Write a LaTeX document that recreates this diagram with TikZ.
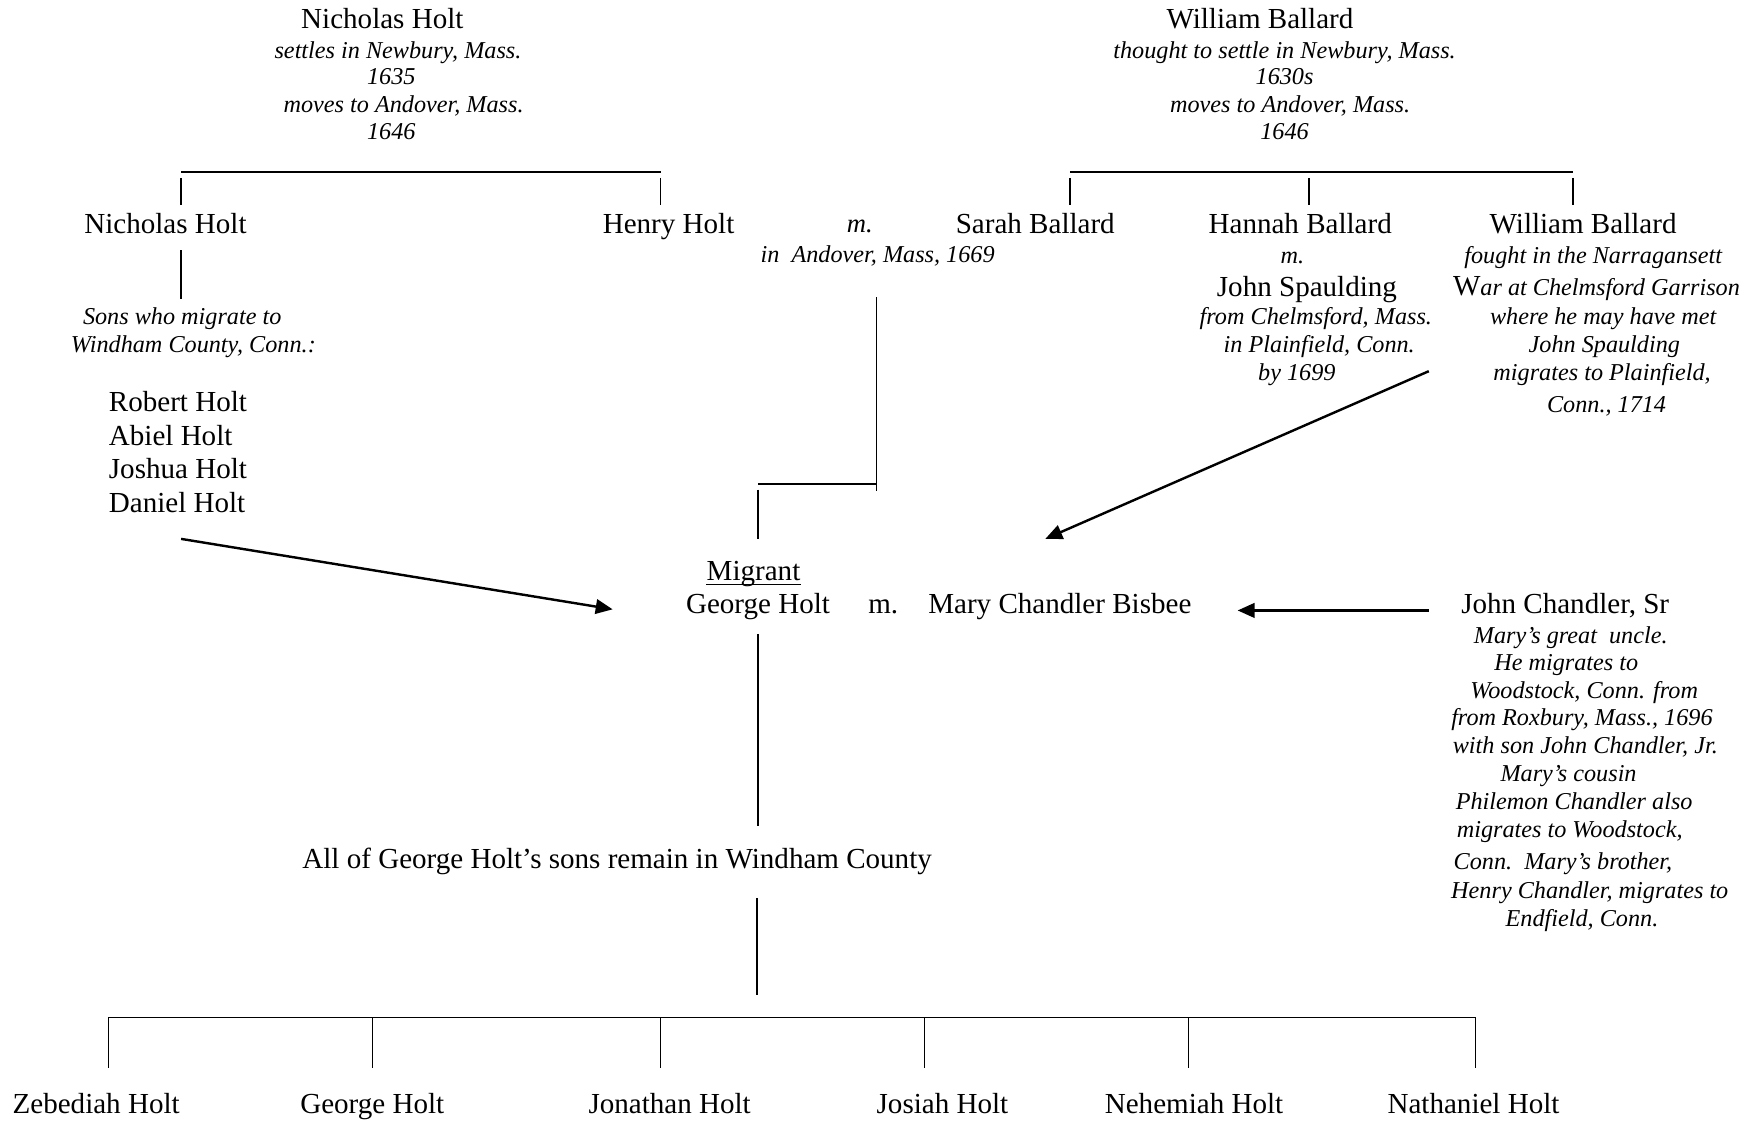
\documentclass[tikz,border=0pt]{standalone}
\usepackage{fontspec}
\setmainfont{Liberation Serif}
\usetikzlibrary{arrows.meta}
\begin{document}
\begin{tikzpicture}[x=0.4617pt,y=-0.4617pt,
  person/.style={anchor=mid,inner sep=0pt,yshift=-1.9pt,font=\fontsize{12}{14}\selectfont},
  remark/.style={anchor=mid,inner sep=0pt,yshift=-1.4pt,font=\fontsize{10}{12}\selectfont\itshape},
  tree/.style={line width=0.6pt},
  migr/.style={line width=1pt,-{Triangle[length=7pt,width=6pt]}}]
\useasboundingbox (0,0) rectangle (1568,1009);

% --- Nicholas Holt, the elder ---
\node[person] (nh) at (342,16) {Nicholas Holt};
\node[remark] (nha) at (356,44) {settles in Newbury, Mass.};
\node[remark] (nhb) at (350,68) {1635};
\node[remark] (nhc) at (361,93) {moves to Andover, Mass.};
\node[remark] (nhd) at (350,117) {1646};
\coordinate (nhL) at (162,154);
\coordinate (nhR) at (591,154);
\draw[tree] (nhL) -- (nhR);
\draw[tree] (nhL) ++(0,5) -- ++(0,24);
\draw[tree] (nhR) ++(0,5) -- ++(0,24);

% --- his sons ---
\node[person] (nhjr) at (148,200) {Nicholas Holt};
\node[person] (hh) at (598,200) {Henry Holt};
\node[remark,font=\fontsize{11}{13}\selectfont\itshape] (hm) at (769,200) {m.};
\node[remark] (hmwhere) at (785,227) {in\ \ Andover, Mass, 1669};
\coordinate (nhjrA) at (162,224);
\coordinate (nhjrB) at (162,267);
\draw[tree] (nhjrA) -- (nhjrB);
\node[remark] (sonsa) at (163,282) {Sons who migrate to};
\node[remark] (sonsb) at (173,307) {Windham County, Conn.:};
\node[person,anchor=mid west] (rob) at (97,359) {Robert Holt};
\node[person,anchor=mid west] (abi) at (97,389) {Abiel Holt};
\node[person,anchor=mid west] (jos) at (97,419) {Joshua Holt};
\node[person,anchor=mid west] (dan) at (97,449) {Daniel Holt};

% --- William Ballard, the elder ---
\node[person] (wb) at (1127,16) {William Ballard};
\node[remark] (wba) at (1149,44) {thought to settle in Newbury, Mass.};
\node[remark] (wbb) at (1149,68) {1630s};
\node[remark] (wbc) at (1154,93) {moves to Andover, Mass.};
\node[remark] (wbd) at (1149,117) {1646};
\coordinate (wbL) at (957,154);
\coordinate (wbM) at (1171,154);
\coordinate (wbR) at (1407,154);
\draw[tree] (wbL) -- (wbR);
\draw[tree] (wbL) ++(0,5) -- ++(0,24);
\draw[tree] (wbM) ++(0,5) -- ++(0,24);
\draw[tree] (wbR) ++(0,5) -- ++(0,24);

% --- his children ---
\node[person] (sb) at (926,200) {Sarah Ballard};
\node[person] (hb) at (1163,200) {Hannah Ballard};
\node[remark] (hbm) at (1156,228) {m.};
\node[person] (js) at (1169,256) {John Spaulding};
\node[remark] (jsa) at (1177,282) {from Chelmsford, Mass.};
\node[remark] (jsb) at (1180,307) {in Plainfield, Conn.};
\node[remark] (jsc) at (1160,332) {by 1699};
\node[person] (wbjr) at (1416,200) {William Ballard};
\node[remark] (wbja) at (1425,228) {fought in the Narragansett};
\node[remark] (wbjb) at (1428,256) {{\fontsize{12}{14}\selectfont\upshape W}ar at Chelmsford Garrison};
\node[remark] (wbjc) at (1434,282) {where he may have met};
\node[remark] (wbjd) at (1435,307) {John Spaulding};
\node[remark] (wbje) at (1433,332) {migrates to Plainfield,};
\node[remark] (wbjf) at (1437,361) {Conn., 1714};

% --- marriage of Henry Holt ---
\coordinate (hmA) at (784,266);
\coordinate (hmB) at (784,439);
\coordinate (hmC) at (678,433);
\coordinate (hmD) at (784,433);
\coordinate (hmE) at (678,438);
\coordinate (hmF) at (678,482);
\draw[tree] (hmA) -- (hmB);
\draw[tree] (hmC) -- (hmD);
\draw[tree] (hmE) -- (hmF);

% --- the migrant couple ---
\node[person] (mig) at (674,510) {Migrant};
\draw[line width=0.55pt] ([yshift=-1.6pt]mig.base west) -- ([yshift=-1.6pt]mig.base east);
\node[person] (gh) at (678,540) {George Holt};
\node[person] (ghm) at (790,540) {m.};
\node[person] (mcb) at (948,540) {Mary Chandler Bisbee};

% --- John Chandler ---
\node[person] (jc) at (1400,540) {John Chandler, Sr};
\node[remark] (jca) at (1405,568) {Mary’s great\ \ uncle.};
\node[remark] (jcb) at (1401,592) {He migrates to};
\node[remark] (jcc) at (1417,617) {Woodstock, Conn. from};
\node[remark] (jcd) at (1415,641) {from Roxbury, Mass., 1696};
\node[remark] (jce) at (1418,666) {with son John Chandler, Jr.};
\node[remark] (jcf) at (1403,691) {Mary’s cousin};
\node[remark] (jcg) at (1408,716) {Philemon Chandler also};
\node[remark] (jch) at (1404,741) {migrates to Woodstock,};
\node[remark] (jci) at (1398,770) {Conn.\ \ Mary’s brother,};
\node[remark] (jcj) at (1422,796) {Henry Chandler, migrates to};
\node[remark] (jck) at (1415,821) {Endfield, Conn.};

% --- migration arrows ---
\coordinate (sonsT) at (162,482);
\coordinate (sonsH) at (548,545);
\coordinate (wbjT) at (1278,332);
\coordinate (wbjH) at (935,482);
\coordinate (jcT) at (1278,546);
\coordinate (jcH) at (1107,546);
\draw[migr] (sonsT) -- (sonsH);
\draw[migr] (wbjT) -- (wbjH);
\draw[migr] (jcT) -- (jcH);

% --- George Holt's sons ---
\coordinate (ghA) at (678,567);
\coordinate (ghB) at (678,739);
\draw[tree] (ghA) -- (ghB);
\node[person] (remain) at (552,768) {All of George Holt’s sons remain in Windham County};
\coordinate (rmA) at (677,803);
\coordinate (rmB) at (677,890);
\draw[tree] (rmA) -- (rmB);
\coordinate (bL) at (97,910);
\coordinate (bR) at (1320,910);
\draw[tree] (bL) -- (bR);
\foreach \x in {97,333,591,827,1063,1320}
  \draw[tree] (\x,910) -- (\x,955);
\node[person] (s1) at (86,987) {Zebediah Holt};
\node[person] (s2) at (333,987) {George Holt};
\node[person] (s3) at (599,987) {Jonathan Holt};
\node[person] (s4) at (843,987) {Josiah Holt};
\node[person] (s5) at (1068,987) {Nehemiah Holt};
\node[person] (s6) at (1318,987) {Nathaniel Holt};
\end{tikzpicture}
\end{document}
